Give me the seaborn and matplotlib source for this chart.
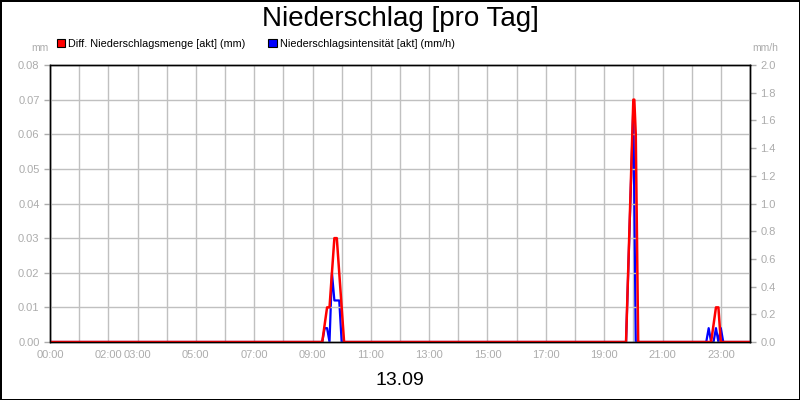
import pandas as pd
import matplotlib
matplotlib.use("Agg")
import matplotlib.pyplot as plt
from matplotlib.patches import Patch
import seaborn as sns
#------------------------------------
# Data
menge_zeit = ["00:00", "09:20", "09:30", "09:35", "09:45", "09:50", "10:05",
              "19:45", "20:00", "20:02", "20:05", "20:10", "22:40", "22:50", "22:55", "23:00", "24:00"]
menge_mm = [0.0, 0.0, 0.01, 0.01, 0.03, 0.03, 0.0,
            0.0, 0.07, 0.07, 0.06, 0.0, 0.0, 0.01, 0.01, 0.0, 0.0]

intens_zeit = ["00:00", "09:20", "09:25", "09:30", "09:35", "09:40", "09:45", "09:55", "10:00",
               "19:45", "20:00", "20:05", "22:30", "22:35", "22:40", "22:45", "22:50",
               "22:55", "23:00", "23:05", "24:00"]
intens_mmh = [0.0, 0.0, 0.1, 0.1, 0.0, 0.5, 0.3, 0.3, 0.0,
              0.0, 1.7, 0.0, 0.0, 0.1, 0.0, 0.0, 0.1,
              0.0, 0.1, 0.0, 0.0]

x_labels = {0: "00:00", 2: "02:00", 3: "03:00", 5: "05:00", 7: "07:00", 9: "09:00",
            11: "11:00", 13: "13:00", 15: "15:00", 17: "17:00", 19: "19:00",
            21: "21:00", 23: "23:00"}
left_ticks = [0.00, 0.01, 0.02, 0.03, 0.04, 0.05, 0.06, 0.07, 0.08]
right_ticks = [0.0, 0.2, 0.4, 0.6, 0.8, 1.0, 1.2, 1.4, 1.6, 1.8, 2.0]

def to_hours(t):
    h, m = t.split(":")
    return int(h) + int(m) / 60

df_menge = pd.DataFrame({"t": [to_hours(t) for t in menge_zeit], "v": menge_mm})
df_int = pd.DataFrame({"t": [to_hours(t) for t in intens_zeit], "v": intens_mmh})
#------------------------------------
sns.set_style("white")
plt.rcParams['font.family'] = ['Liberation Sans', 'DejaVu Sans']
plt.rcParams['text.color'] = 'black'
grey = "#acacac"

fig = plt.figure(figsize=(8, 4), dpi=100)
fig.patch.set_edgecolor("black")
fig.patch.set_linewidth(2)
ax2 = fig.add_axes([0.0625, 0.145, 0.875, 0.6925])
ax = ax2.twinx()
# red (mm) axis on top of the blue one
ax.set_zorder(ax2.get_zorder() + 1)
ax.patch.set_visible(False)
ax.yaxis.tick_left()
ax2.yaxis.tick_right()

sns.lineplot(data=df_int, x="t", y="v", ax=ax2, color="#0000ff", linewidth=1.6)
sns.lineplot(data=df_menge, x="t", y="v", ax=ax, color="#ff0000", linewidth=1.8)

ax.set_xlim(0, 24)
ax.set_ylim(0, 0.08)
ax2.set_ylim(0, 2.0)
ax.set_yticks(left_ticks)
ax.set_yticklabels([f"{v:.2f}" for v in left_ticks])
ax2.set_yticks(right_ticks)
ax2.set_yticklabels([f"{v:.1f}" for v in right_ticks])
ax2.set_xticks(range(25))
ax2.set_xticklabels([x_labels.get(h, "") for h in range(25)])

ax.grid(True, axis="y", color="#c0c0c0", linewidth=1)
ax2.grid(True, axis="x", color="#c0c0c0", linewidth=1)
for a in (ax, ax2):
    a.set_xlabel("")
    a.set_ylabel("")
    a.tick_params(colors=grey, labelcolor=grey, labelsize=8, length=4, width=1)
    for s in a.spines.values():
        s.set_color("black")
        s.set_linewidth(1)
ax.tick_params(axis="x", bottom=False, labelbottom=False)
ax2.tick_params(axis="x", pad=2)

fig.text(0.5, 0.953, "Niederschlag [pro Tag]", ha="center", va="center", fontsize=20, color="black")
fig.text(0.5, 0.048, "13.09", ha="center", va="center", fontsize=14, color="black")
fig.text(40 / 800, 1 - 48 / 400, "mm", ha="center", va="center", fontsize=7.5, color=grey)
fig.text(765 / 800, 1 - 48 / 400, "mm/h", ha="center", va="center", fontsize=7.5, color=grey)

handles = [Patch(facecolor="#ff0000", edgecolor="black", linewidth=0.8),
           Patch(facecolor="#0000ff", edgecolor="black", linewidth=0.8)]
fig.legend(handles, ["Diff. Niederschlagsmenge [akt] (mm)", "Niederschlagsintensität [akt] (mm/h)"],
           loc="center left", bbox_to_anchor=(57 / 800, 1 - 44 / 400), ncol=2, frameon=False,
           fontsize=7.8, handlelength=0.75, handleheight=0.75, handletextpad=0.3,
           columnspacing=2.1, borderpad=0, borderaxespad=0, labelcolor="black")

fig.savefig("out.png", dpi=100, edgecolor=fig.get_edgecolor())
